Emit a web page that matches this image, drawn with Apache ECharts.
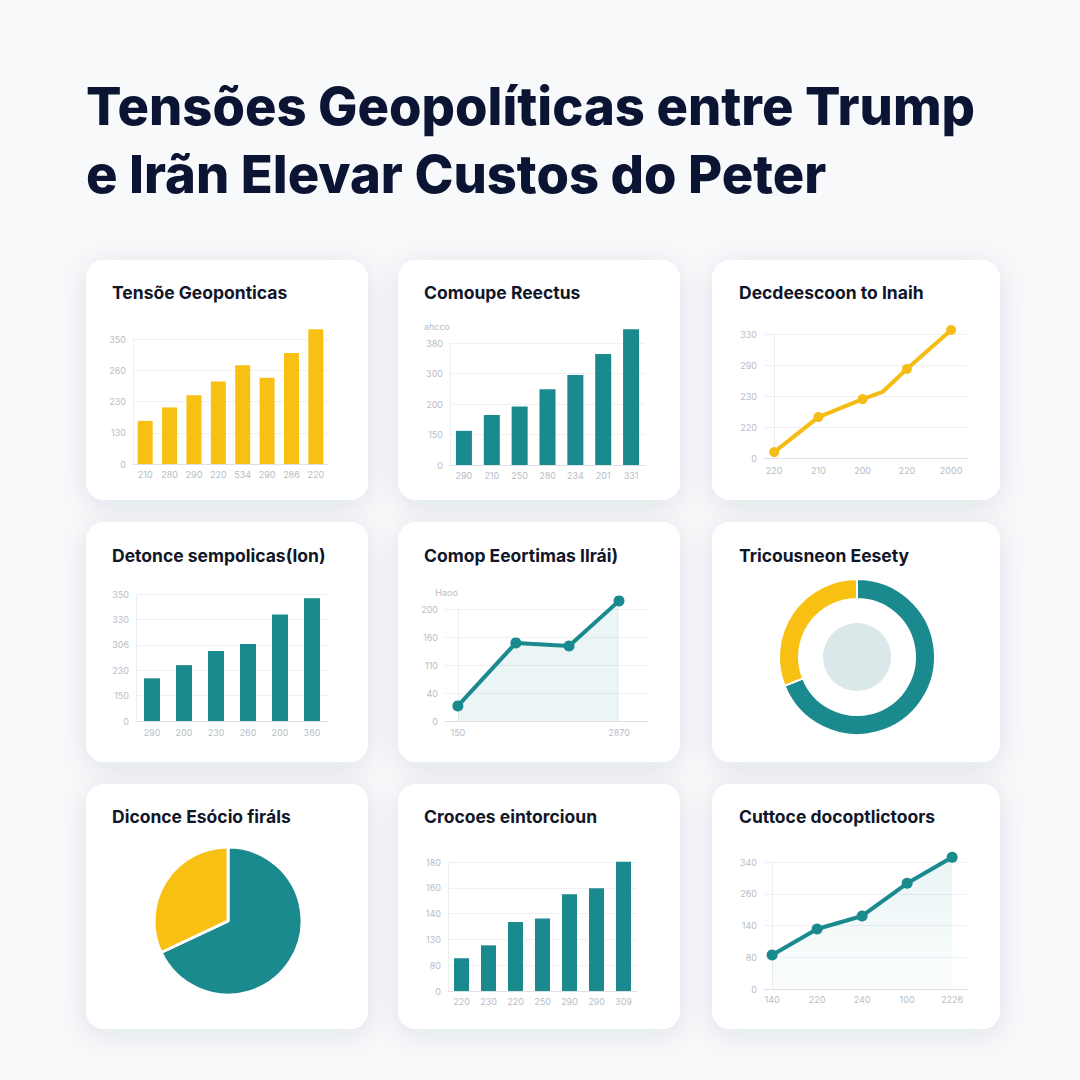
<!DOCTYPE html>
<html><head><meta charset="utf-8">
<script src="https://cdn.jsdelivr.net/npm/echarts@6/dist/echarts.min.js"></script>
<style>html,body{margin:0;padding:0;background:#f8f9fa}#c{width:1080px;height:1080px}</style>
</head><body><div id="c"></div>
<script>
// ---------- text ----------
const titleLines = ['Tensões Geopolíticas entre Trump', 'e Irãn Elevar Custos do Peter'];
const panelTitles = [
  'Tensõe Geoponticas', 'Comoupe Reectus', 'Decdeescoon to Inaih',
  'Detonce sempolicas(lon)', 'Comop Eeortimas Ilrái)', 'Tricousneon Eesety',
  'Diconce Esócio firáls', 'Crocoes eintorcioun', 'Cuttoce docoptlictoors'
];

// ---------- data ----------
// panel 1: yellow bars
const p1Cats = ['210', '280', '290', '220', '534', '290', '286', '220'];
const p1Vals = [138, 181, 220, 264, 316, 276, 355, 431];
const p1YTicks = ['0', '130', '230', '260', '350'];
// panel 2: teal bars
const p2Cats = ['290', '210', '250', '280', '234', '201', '331'];
const p2Vals = [112, 164, 192, 248, 295, 364, 445];
const p2YTicks = ['0', '150', '200', '300', '380'];
const p2YName = 'ahcco';
// panel 3: yellow line
const p3X = [0, 1, 2, 2.45, 3, 4];
const p3Y = [19, 132, 190, 213, 287, 413];
const p3Marked = [true, true, true, false, true, true];
const p3XTicks = ['220', '210', '200', '220', '2000'];
const p3YTicks = ['0', '220', '230', '290', '330'];
// panel 4: teal bars
const p4Cats = ['290', '200', '230', '260', '200', '360'];
const p4Vals = [168, 220, 276, 303, 419, 483];
const p4YTicks = ['0', '150', '230', '306', '330', '350'];
// panel 5: teal line with area
const p5X = [0, 1.08, 2.07, 3];
const p5Y = [54, 279, 268, 429];
const p5XTickPos = [0, 3];
const p5XTicks = ['150', '2870'];
const p5YTicks = ['0', '40', '110', '160', '200'];
const p5YName = 'Haoo';
// panel 6: donut
const p6Vals = [69, 31];
// panel 7: pie
const p7Vals = [68, 32];
// panel 8: teal bars
const p8Cats = ['220', '230', '220', '250', '290', '290', '309'];
const p8Vals = [127, 177, 267, 281, 375, 398, 501];
const p8YTicks = ['0', '80', '130', '140', '160', '180'];
// panel 9: teal line with area
const p9X = [0, 1, 2, 3, 4];
const p9Y = [107, 189, 230, 333, 415];
const p9XTicks = ['140', '220', '240', '100', '2226'];
const p9YTicks = ['0', '80', '140', '260', '340'];

// ---------- style / layout ----------
const TEAL = '#1b8a8f', YELLOW = '#f8c012', LYELLOW = '#f4bc14';
const NAVY = '#0c1433', LBL = '#b7bdc4', GRIDC = '#eef0f3', AXC = '#dde1e6';
const cardX = [86, 398, 712], cardW = [282, 282, 288];
const cardY = [260, 522, 784], cardH = [240, 240, 245];
const titleX = [112, 424, 739], titleY = [292.5, 555, 816.5];

const grids = [
  {left: 133, top: 339, width: 195, height: 125},
  {left: 450, top: 343, width: 195, height: 122},
  {left: 764, top: 334, width: 203, height: 124},
  {left: 136, top: 594, width: 192, height: 127},
  {left: 445, top: 609, width: 203, height: 112},
  {left: 448, top: 862, width: 189, height: 129},
  {left: 764, top: 862, width: 203, height: 127}
];

function yAx(gi, ticks, name) {
  const itv = 100;
  return {
    type: 'value', gridIndex: gi, min: 0, max: itv * (ticks.length - 1), interval: itv,
    axisLine: {show: true, lineStyle: {color: '#eceef1'}},
    axisTick: {show: false},
    splitLine: {lineStyle: {color: GRIDC}},
    axisLabel: {color: LBL, fontSize: 9, margin: 7, fontFamily: 'Inter',
      formatter: v => { const i = Math.round(v / itv); return ticks[i] !== undefined ? ticks[i] : ''; }},
    name: name || '', nameLocation: 'end', nameGap: 12,
    nameTextStyle: {color: LBL, fontSize: 9, align: 'right', fontFamily: 'Inter'}
  };
}
function xCat(gi, cats, margin) {
  return {
    type: 'category', gridIndex: gi, data: cats,
    axisLine: {lineStyle: {color: AXC}}, axisTick: {show: false},
    axisLabel: {color: LBL, fontSize: 9, margin: margin, interval: 0, fontFamily: 'Inter'}
  };
}
function xVal(gi, min, max, pos, labels, margin) {
  return {
    type: 'value', gridIndex: gi, min: min, max: max,
    axisLine: {show: true, lineStyle: {color: AXC}}, axisTick: {show: false},
    splitLine: {show: false},
    axisLabel: {color: LBL, fontSize: 9, margin: margin, fontFamily: 'Inter', customValues: pos,
      formatter: v => { const i = pos.indexOf(v); return i >= 0 ? labels[i] : ''; }}
  };
}
const idx = a => a.map((_, i) => i);

const graphic = [];
for (let r = 0; r < 3; r++) for (let c = 0; c < 3; c++) {
  graphic.push({type: 'rect', z: -1, silent: true,
    shape: {x: cardX[c], y: cardY[r], width: cardW[c], height: cardH[r], r: 18},
    style: {fill: '#ffffff', shadowBlur: 28, shadowOffsetY: 5, shadowColor: 'rgba(30,50,90,0.10)'}});
}
titleLines.forEach((t, i) => graphic.push({type: 'text', x: 86, y: 105.5 + i * 68.5, silent: true,
  style: {text: t, fill: NAVY, font: '800 52.5px Inter', textVerticalAlign: 'middle'}}));
panelTitles.forEach((t, k) => graphic.push({type: 'text', x: titleX[k % 3], y: titleY[Math.floor(k / 3)], silent: true,
  style: {text: t, fill: '#111629', font: '700 17.5px Inter', textVerticalAlign: 'middle'}}));

const option = {
  backgroundColor: '#f8f9fa',
  animation: false,
  grid: grids,
  graphic: graphic,
  xAxis: [
    xCat(0, p1Cats, 6),
    xCat(1, p2Cats, 6),
    xVal(2, -0.23, 4.36, idx(p3XTicks), p3XTicks, 8),
    xCat(3, p4Cats, 7),
    xVal(4, -0.24, 3.54, p5XTickPos, p5XTicks, 7),
    xCat(5, p8Cats, 6),
    xVal(6, -0.18, 4.33, idx(p9XTicks), p9XTicks, 6)
  ],
  yAxis: [
    yAx(0, p1YTicks), yAx(1, p2YTicks, p2YName), yAx(2, p3YTicks), yAx(3, p4YTicks),
    yAx(4, p5YTicks, p5YName), yAx(5, p8YTicks), yAx(6, p9YTicks)
  ],
  series: [
    {type: 'bar', xAxisIndex: 0, yAxisIndex: 0, data: p1Vals, barWidth: 15, clip: false,
      itemStyle: {color: YELLOW}, silent: true},
    {type: 'bar', xAxisIndex: 1, yAxisIndex: 1, data: p2Vals, barWidth: 16, clip: false,
      itemStyle: {color: TEAL}, silent: true},
    {type: 'line', xAxisIndex: 2, yAxisIndex: 2, data: p3X.map((x, i) => [x, p3Y[i]]), clip: false,
      symbol: 'circle', symbolSize: (v, p) => p3Marked[p.dataIndex] ? 10 : 0,
      lineStyle: {color: LYELLOW, width: 4}, itemStyle: {color: LYELLOW}, silent: true},
    {type: 'bar', xAxisIndex: 3, yAxisIndex: 3, data: p4Vals, barWidth: 16, clip: false,
      itemStyle: {color: TEAL}, silent: true},
    {type: 'line', xAxisIndex: 4, yAxisIndex: 4, data: p5X.map((x, i) => [x, p5Y[i]]), clip: false,
      symbol: 'circle', symbolSize: 11, lineStyle: {color: TEAL, width: 4}, itemStyle: {color: TEAL},
      areaStyle: {color: 'rgba(27,138,143,0.12)'}, silent: true},
    {type: 'bar', xAxisIndex: 5, yAxisIndex: 5, data: p8Vals, barWidth: 15, clip: false,
      itemStyle: {color: TEAL}, silent: true},
    {type: 'line', xAxisIndex: 6, yAxisIndex: 6, data: p9X.map((x, i) => [x, p9Y[i]]), clip: false,
      symbol: 'circle', symbolSize: 11, lineStyle: {color: TEAL, width: 4}, itemStyle: {color: TEAL},
      areaStyle: {color: new echarts.graphic.LinearGradient(0, 0, 0, 1, [
        {offset: 0, color: 'rgba(27,138,143,0.14)'}, {offset: 1, color: 'rgba(27,138,143,0.02)'}])},
      silent: true},
    {type: 'pie', center: [857, 657], radius: [0, 34], silent: true, label: {show: false},
      data: [{value: 1, itemStyle: {color: '#dbe8ea'}}]},
    {type: 'pie', center: [857, 657], radius: [58, 78], startAngle: 90, silent: true,
      label: {show: false}, labelLine: {show: false},
      itemStyle: {borderColor: '#ffffff', borderWidth: 2},
      data: p6Vals.map((v, i) => ({value: v, itemStyle: {color: i === 0 ? TEAL : YELLOW}}))},
    {type: 'pie', center: [228, 921], radius: [0, 74], startAngle: 90, silent: true,
      label: {show: false}, labelLine: {show: false},
      itemStyle: {borderColor: '#ffffff', borderWidth: 3},
      data: p7Vals.map((v, i) => ({value: v, itemStyle: {color: i === 0 ? TEAL : YELLOW}}))}
  ]
};
const chart = echarts.init(document.getElementById('c'), null, {renderer: 'svg', width: 1080, height: 1080});
chart.setOption(option);
</script>
</body></html>
